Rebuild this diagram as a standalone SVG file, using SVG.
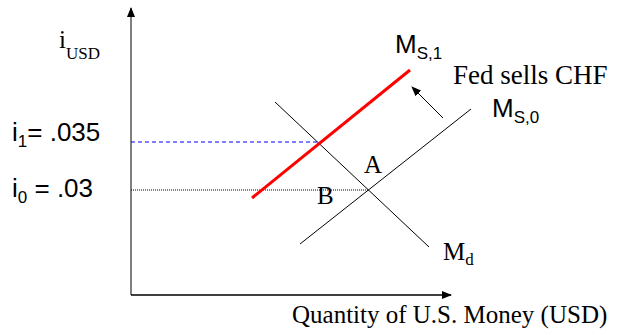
<svg xmlns="http://www.w3.org/2000/svg" width="631" height="335" viewBox="0 0 631 335">
<style>
.serif{font-family:"Liberation Serif","Times New Roman",serif;fill:#000}
.sans{font-family:"Liberation Sans",Arial,sans-serif;fill:#000}
.thin{stroke:#000;stroke-width:1;fill:none}
</style>
<defs>
<marker id="ah" markerWidth="10" markerHeight="8" refX="9" refY="4" orient="auto" markerUnits="userSpaceOnUse">
<path d="M0,0 L10,4 L0,8 Z" fill="#000"/>
</marker>
</defs>
<rect width="631" height="335" fill="#fff"/>
<g id="axes">
<line x1="131" y1="295" x2="131" y2="8" stroke="#555" stroke-width="1.5" marker-end="url(#ah)"/>
<line x1="131" y1="295" x2="451" y2="295" stroke="#000" stroke-width="1.5" marker-end="url(#ah)"/>
</g>
<g id="connectors">
<line x1="131" y1="142" x2="320" y2="142" stroke="#0000ff" stroke-width="1" stroke-dasharray="4,3"/>
<line x1="131" y1="190" x2="369" y2="190" stroke="#000" stroke-width="1" stroke-dasharray="1,1"/>
<line x1="443" y1="118" x2="412" y2="87" stroke="#000" stroke-width="1" marker-end="url(#ah)"/>
</g>
<g id="Md">
<line class="thin" x1="275" y1="102" x2="429" y2="247"/>
<text class="serif" x="443" y="260" font-size="25">M<tspan font-size="17" dy="5">d</tspan></text>
</g>
<g id="Ms0">
<line class="thin" x1="300" y1="244" x2="471" y2="109"/>
<text class="sans" x="492" y="117" font-size="26">M<tspan font-size="17" dy="6">S,0</tspan></text>
</g>
<g id="Ms1">
<line x1="252" y1="198" x2="410" y2="70" stroke="#ff0000" stroke-width="3"/>
<text class="sans" x="395" y="53" font-size="26">M<tspan font-size="17" dy="6">S,1</tspan></text>
</g>
<g id="labels">
<text class="serif" x="453" y="84" font-size="27">Fed sells CHF</text>
<text class="serif" x="364" y="173" font-size="25">A</text>
<text class="serif" x="317" y="204" font-size="25">B</text>
<text class="serif" x="59" y="48" font-size="25">i<tspan font-size="17" dy="11">USD</tspan></text>
<text class="sans" x="12" y="141" font-size="26">i<tspan font-size="17" dy="6">1</tspan><tspan dy="-6">= .035</tspan></text>
<text class="sans" x="12" y="197" font-size="26">i<tspan font-size="17" dy="6">0</tspan><tspan dy="-6"> = .03</tspan></text>
<text class="serif" x="292" y="323" font-size="25">Quantity of U.S. Money (USD)</text>
</g>
</svg>
